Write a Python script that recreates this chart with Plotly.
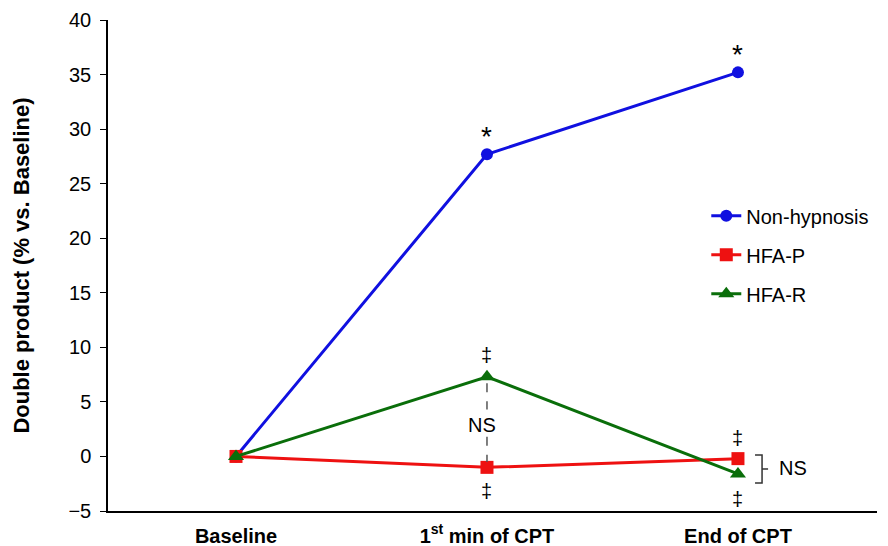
import plotly.graph_objects as go

categories = ["Baseline", "1<sup>st</sup> min of CPT", "End of CPT"]
x_pos = [0, 1, 2]
non_hypnosis = [0, 27.7, 35.2]
hfa_p = [0, -1.0, -0.2]
hfa_r = [0, 7.3, -1.6]

fig = go.Figure()
fig.add_trace(go.Scatter(x=x_pos, y=non_hypnosis, name="Non-hypnosis", mode="lines+markers",
                         line=dict(color="#1010e0", width=3), marker=dict(symbol="circle", size=12, color="#1010e0"),
                         legendgroup="a"))
fig.add_trace(go.Scatter(x=x_pos, y=hfa_p, name="HFA-P", mode="lines+markers",
                         line=dict(color="#ee1111", width=3), marker=dict(symbol="square", size=13, color="#ee1111"),
                         legendgroup="b"))
fig.add_trace(go.Scatter(x=x_pos, y=hfa_r, name="HFA-R", mode="lines+markers",
                         line=dict(color="#0a6e0a", width=3), marker=dict(symbol="triangle-up", size=14, color="#0a6e0a"),
                         legendgroup="c"))

# dashed connector at 1st min
for y0, y1 in [(hfa_r[1] - 0.6, 4.3), (1.8, hfa_p[1] + 0.5)]:
    fig.add_shape(type="line", x0=1, x1=1, y0=y0, y1=y1, line=dict(color="#555555", width=1.5, dash="dash"))

# bracket at end
fig.add_shape(type="path", path="M 2.068,0.13 L 2.096,0.13 L 2.096,-2.44 L 2.068,-2.44",
              line=dict(color="#333333", width=1.5))
fig.add_shape(type="line", x0=2.096, x1=2.12, y0=-1.15, y1=-1.15, line=dict(color="#333333", width=1.5))

ann = [
    dict(x=1, y=non_hypnosis[1] + 1.6, text="*", size=28),
    dict(x=2, y=non_hypnosis[2] + 1.6, text="*", size=28),
    dict(x=1, y=hfa_r[1] + 2.0, text="‡", size=20),
    dict(x=1, y=hfa_p[1] - 2.2, text="‡", size=20),
    dict(x=2, y=hfa_p[2] + 1.9, text="‡", size=20),
    dict(x=2, y=hfa_r[2] - 2.3, text="‡", size=20),
    dict(x=0.98, y=2.9, text="NS", size=20),
    dict(x=2.22, y=-1.1, text="NS", size=20),
]
for a in ann:
    fig.add_annotation(x=a["x"], y=a["y"], text=a["text"], showarrow=False,
                       font=dict(family="Liberation Sans, Arial", size=a["size"], color="black"))

fig.update_layout(
    width=888, height=546,
    margin=dict(l=100, r=19, t=12, b=43),
    plot_bgcolor="white", paper_bgcolor="white",
    font=dict(family="Liberation Sans, Arial", size=20, color="black"),
    showlegend=True,
    legend=dict(x=0.778, y=0.641, xanchor="left", yanchor="top", tracegroupgap=10,
                font=dict(size=20), bgcolor="rgba(0,0,0,0)"),
    xaxis=dict(range=[-0.51, 2.554], tickvals=x_pos, ticktext=["<b>" + c + "</b>" for c in categories],
               showline=True, linecolor="black", linewidth=1.5, ticks="", showgrid=False, zeroline=False,
               tickfont=dict(size=20), automargin=False, ticklabelstandoff=6),
    yaxis=dict(range=[-5, 40], dtick=5, showline=True, linecolor="black", linewidth=1.5,
               ticks="outside", ticklen=6, tickcolor="black", showgrid=False, zeroline=False,
               tickfont=dict(size=20), automargin=False, ticklabelstandoff=5,
               title=dict(text="<b>Double product (% vs. Baseline)</b>", font=dict(size=22), standoff=33)),
)

fig.write_html("out.html")
